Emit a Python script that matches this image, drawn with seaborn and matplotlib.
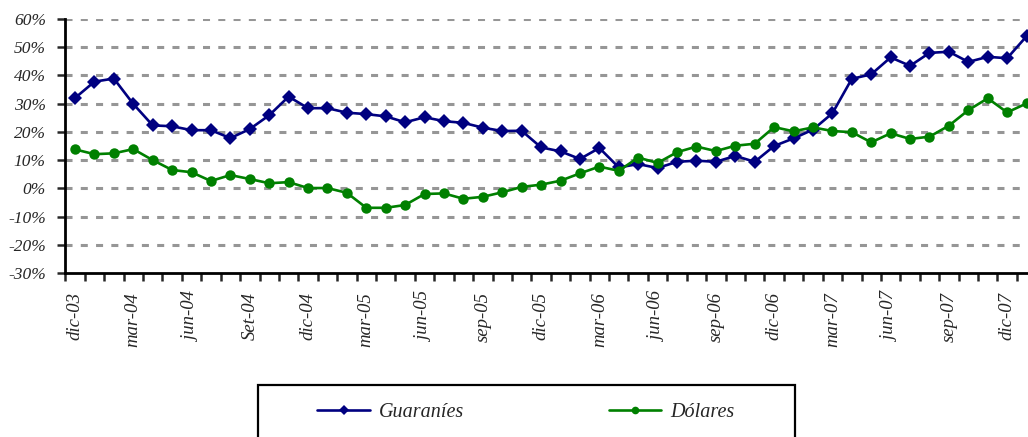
import numpy as np
import pandas as pd
import seaborn as sns
import matplotlib.pyplot as plt
from matplotlib.lines import Line2D
from matplotlib.patches import Rectangle
from matplotlib.ticker import FixedLocator, FuncFormatter

# --- Data (monthly, dic-03 .. ene-08), percent ---
guaranies = [32.0, 37.8, 38.9, 29.9, 22.3, 22.0, 20.6, 20.6, 17.8, 21.0,
             25.9, 32.5, 28.4, 28.4, 26.8, 26.3, 25.5, 23.4, 25.2, 23.8,
             23.2, 21.5, 20.3, 20.4, 14.5, 13.1, 10.4, 14.3, 7.4, 8.6,
             7.2, 9.4, 9.8, 9.4, 11.5, 9.4, 15.0, 17.7, 20.8, 26.6,
             38.8, 40.4, 46.4, 43.4, 48.0, 48.4, 44.8, 46.6, 46.1, 53.9]
dolares = [13.8, 12.1, 12.4, 13.9, 10.0, 6.5, 5.7, 2.6, 4.7, 3.3,
           1.8, 2.2, 0.1, 0.1, -1.6, -6.9, -6.9, -5.9, -2.0, -1.8,
           -3.7, -3.0, -1.4, 0.5, 1.3, 2.7, 5.3, 7.7, 6.2, 10.9,
           9.0, 12.8, 14.8, 13.2, 15.1, 15.8, 21.7, 20.2, 21.6, 20.3,
           19.9, 16.3, 19.5, 17.5, 18.3, 22.2, 27.7, 31.9, 26.9, 30.1]
tick_labels = ["dic-03", "mar-04", "jun-04", "Set-04", "dic-04", "mar-05",
               "jun-05", "sep-05", "dic-05", "mar-06", "jun-06", "sep-06",
               "dic-06", "mar-07", "jun-07", "sep-07", "dic-07"]
series_names = ["Guaraníes", "Dólares"]
colors = {"Guaraníes": "#000080", "Dólares": "#008000"}
markers = {"Guaraníes": "D", "Dólares": "o"}

n = len(guaranies)
df = pd.DataFrame({
    "mes": list(range(n)) * 2,
    "valor": guaranies + dolares,
    "serie": [series_names[0]] * n + [series_names[1]] * n,
})

sns.set_style("white")
plt.rcParams["font.family"] = ["Liberation Serif", "DejaVu Serif"]
plt.rcParams["font.style"] = "italic"

fig = plt.figure(figsize=(10.28, 4.37), dpi=100)
ax = fig.add_axes([65.3 / 1028, 1 - 273 / 437, 971 / 1028, 254 / 437])

sns.lineplot(data=df, x="mes", y="valor", hue="serie", style="serie",
             palette=colors, markers=markers, dashes=False, ax=ax,
             linewidth=1.9, markersize=7.5, markeredgewidth=0, legend=False)

ax.set_xlim(-0.5, n - 0.5)
ax.set_ylim(-30, 60)
ax.set_xlabel("")
ax.set_ylabel("")

# y axis
ax.set_yticks(np.arange(-30, 61, 10))
ax.yaxis.set_major_formatter(FuncFormatter(lambda v, p: f"{int(v)}%"))
for v in range(-20, 61, 10):
    ax.axhline(v, color="#969696", lw=2.2, ls=(0, (2.3, 2.7)), zorder=0)
ax.tick_params(axis="y", direction="out", length=6, width=1.8, pad=8,
               labelsize=12.5, left=True)

# x axis
ax.set_xticks(np.arange(0, n, 3)[:len(tick_labels)])
ax.set_xticklabels(tick_labels, rotation=90, fontsize=13.5)
ax.xaxis.set_minor_locator(FixedLocator(np.arange(-0.5, n, 1)))
ax.tick_params(axis="x", which="major", length=0, pad=14)
ax.tick_params(axis="x", which="minor", direction="out", length=6, width=1.8, bottom=True)

for s in ["top", "right"]:
    ax.spines[s].set_visible(False)
for s in ["left", "bottom"]:
    ax.spines[s].set_color("black")
    ax.spines[s].set_linewidth(2)

# legend box, cut off by the bottom edge
fig.patches.append(Rectangle((258 / 1028, -0.05), 537 / 1028, 52 / 437 + 0.05,
                             transform=fig.transFigure, fill=False,
                             edgecolor="black", lw=1.6))
handles = [Line2D([], [], color=colors[s], marker=markers[s], lw=1.9,
                  markersize=5.5, markeredgewidth=0) for s in series_names]
fig.legend(handles, series_names, loc="center", ncol=2, frameon=False,
           bbox_to_anchor=(526 / 1028, 1 - 412 / 437), fontsize=14.5,
           handlelength=2.6, handletextpad=0.45, columnspacing=7.2)

fig.savefig("out.png", dpi=100)
